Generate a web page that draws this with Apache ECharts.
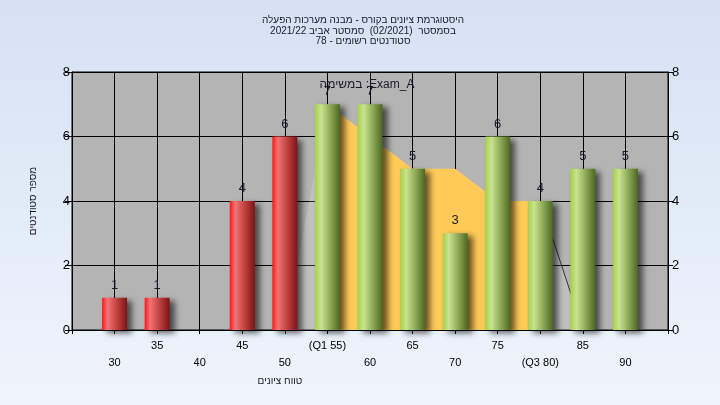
<!DOCTYPE html>
<html>
<head>
<meta charset="utf-8">
<script src="https://cdn.jsdelivr.net/npm/echarts@6/dist/echarts.min.js"></script>
<style>
html,body{margin:0;padding:0;}
#c{width:720px;height:405px;background:linear-gradient(180deg,#d5e2f3 0%,#eef5fc 100%);}
</style>
</head>
<body>
<div id="c"></div>
<script>
// ---- data ----
const categories = ['30','35','40','45','50','55','60','65','70','75','80','85','90'];
const tickLabels = ['30','35','40','45','50','(Q1 55)','60','65','70','75','(Q3 80)','85','90'];
const counts     = [1, 1, 0, 4, 6, 7, 7, 5, 3, 6, 4, 5, 5];
const curve      = [null, null, null, null, 0, 7, 6, 5, 5, 4, 4, 0, 0];
const q1Cat = '55';
const q3Cat = '80';
const passFromCat = '55';
const titleLines = [
  'היסטוגרמת ציונים בקורס - מבנה מערכות הפעלה',
  'בסמסטר  (02/2021)  סמסטר אביב 2021/22',
  'סטודנטים רשומים - 78'
];
const legendText = 'במשימה :Exam_A';
const xName = 'טווח ציונים';
const yName = 'מספר סטודנטים';

// ---- helpers ----
const q1i = categories.indexOf(q1Cat), q3i = categories.indexOf(q3Cat), passI = categories.indexOf(passFromCat);
const axisData = [''].concat(tickLabels, ['']);
const pad = arr => [null].concat(arr, [null]);

const G = echarts.graphic.LinearGradient;
const redGrad = new G(0,0,1,0,[
  {offset:0,color:'#ff1616'},{offset:0.22,color:'#f17474'},{offset:0.55,color:'#c84646'},{offset:1,color:'#7c1414'}]);
const greenGrad = new G(0,0,1,0,[
  {offset:0,color:'#a6d04a'},{offset:0.25,color:'#c9e38f'},{offset:0.6,color:'#8eac58'},{offset:1,color:'#4c6822'}]);

const barData = counts.map((v,i)=>({value:v, itemStyle:{color: i<passI ? redGrad : greenGrad}}));
const iqrData = curve.map((v,i)=> (i>=q1i && i<=q3i) ? v : null);
const tailData = curve.map((v,i)=> (i>=q3i && i<=q3i+1) ? v : null);

const chart = echarts.init(document.getElementById('c'), null, {renderer:'canvas'});
const FONT = 'Liberation Sans, Arial, sans-serif';
chart.setOption({
  backgroundColor:'transparent',
  animation:false,
  textStyle:{fontFamily:FONT},
  title:{
    text: titleLines.join('\n'),
    left: 358, top: 10, textAlign:'center',
    textStyle:{fontSize:10, fontWeight:'normal', color:'#1a1a2a', lineHeight:10.5, fontFamily:FONT}
  },
  grid:{left:72, right:52, top:72, bottom:75, show:true, backgroundColor:'#b4b4b4', borderColor:'#000', borderWidth:1},
  xAxis:{
    type:'category', boundaryGap:false, data:axisData,
    axisLine:{lineStyle:{color:'#000'}},
    axisTick:{show:true, interval:0, length:4, lineStyle:{color:'#000'}},
    axisLabel:{interval:0, fontSize:11, lineHeight:17, margin:7, color:'#000',
      formatter:(v,i)=> v==='' ? '' : (i%2===1 ? '\n'+v : v)},
    splitLine:{show:true, interval:0, lineStyle:{color:'#000', width:1}}
  },
  yAxis:[{
    type:'value', min:0, max:8, interval:2, position:'left',
    name: yName, nameLocation:'middle', nameGap:34, nameRotate:90,
    nameTextStyle:{fontSize:10, color:'#1a1a2a'},
    axisLine:{show:true, lineStyle:{color:'#000'}},
    axisTick:{show:true, length:7, lineStyle:{color:'#000'}},
    axisLabel:{fontSize:13, color:'#000', margin:2},
    splitLine:{show:true, lineStyle:{color:'#000', width:1}}
  },{
    type:'value', min:0, max:8, interval:2, position:'right',
    axisLine:{show:true, lineStyle:{color:'#000'}},
    axisTick:{show:true, length:5, lineStyle:{color:'#000'}},
    axisLabel:{fontSize:13, color:'#000', margin:4},
    splitLine:{show:false}
  }],
  graphic:[
    {type:'text', x:367, y:85, z:100,
     style:{text:legendText, fill:'#1a1a2a', font:'12px '+FONT, align:'center', verticalAlign:'middle', textAlign:'center', textVerticalAlign:'middle'}},
    {type:'text', x:280, y:381, z:100,
     style:{text:xName, fill:'#1a1a2a', font:'10px '+FONT, align:'center', verticalAlign:'middle', textAlign:'center', textVerticalAlign:'middle'}}
  ],
  series:[
    {type:'line', data:pad(curve), symbol:'none', z:1, lineStyle:{width:0, opacity:0},
     areaStyle:{color:'rgba(255,255,255,0.16)', opacity:1}, silent:true},
    {type:'line', data:pad(iqrData), symbol:'none', z:2, lineStyle:{width:0, opacity:0},
     areaStyle:{color:'#ffca58', opacity:1}, silent:true},
    {type:'line', data:pad(tailData), symbol:'none', z:2, lineStyle:{width:1, color:'#333'}, silent:true},
    {type:'bar', data:pad(barData), barWidth:25, z:5,
     itemStyle:{shadowColor:'rgba(0,0,0,0.6)', shadowBlur:6, shadowOffsetX:5, shadowOffsetY:3},
     label:{show:true, position:'top', distance:6, fontSize:13, color:'#1a1a2a',
       formatter:p=> (p.value ? p.value : '')}}
  ]
});
</script>
</body>
</html>
